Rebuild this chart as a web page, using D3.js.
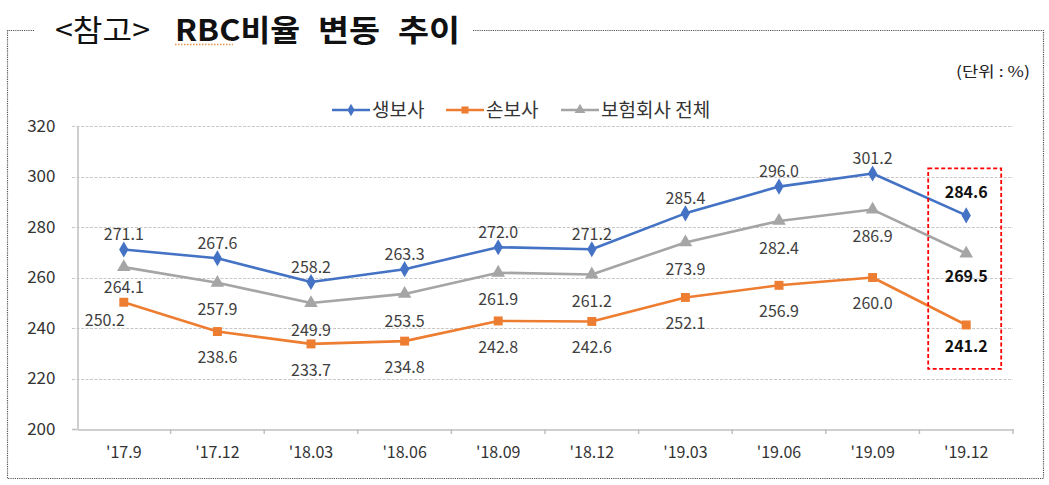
<!DOCTYPE html>
<html>
<head>
<meta charset="utf-8">
<script src="https://cdn.jsdelivr.net/npm/d3@7"></script>
<style>
  body { margin: 0; background: #fff; }
  text { font-family: "Noto Sans CJK KR", "Noto Sans", sans-serif; }
</style>
</head>
<body>
<div class="canvas"></div>
<script>
// data
const periods = ["'17.9", "'17.12", "'18.03", "'18.06", "'18.09", "'18.12", "'19.03", "'19.06", "'19.09", "'19.12"];
const lifeValues = [271.1, 267.6, 258.2, 263.3, 272.0, 271.2, 285.4, 296.0, 301.2, 284.6];
const nonlifeValues = [250.2, 238.6, 233.7, 234.8, 242.8, 242.6, 252.1, 256.9, 260.0, 241.2];
const totalValues = [264.1, 257.9, 249.9, 253.5, 261.9, 261.2, 273.9, 282.4, 286.9, 269.5];
const seriesNames = ["생보사", "손보사", "보험회사 전체"];
const yTicks = [200, 220, 240, 260, 280, 300, 320];

// margins and dimensions
const w = 1049;
const h = 485;
const plot = { left: 77, right: 1013, top: 126, bottom: 429 };

const svg = d3.select(".canvas").append("svg").attr("width", w).attr("height", h);

// outer dotted frame (top broken by the title)
svg.append("path")
  .attr("d", "M34,30.5 H7.5 V478.5 H1043.5 V30.5 H473")
  .attr("fill", "none").attr("stroke", "#555").attr("stroke-width", 1.2).attr("stroke-dasharray", "1.2,1");

// title
svg.append("text").attr("x", 55).attr("y", 41).attr("font-size", 30).attr("fill", "#111")
  .attr("textLength", 95).attr("lengthAdjust", "spacingAndGlyphs").text("<참고>");
const titleWords = [
  { x: 175, len: 125, t: "RBC비율" },
  { x: 318, len: 62, t: "변동" },
  { x: 398, len: 62, t: "추이" },
];
svg.append("g").selectAll("text").data(titleWords).enter().append("text")
  .attr("x", (d) => d.x).attr("y", 41)
  .attr("font-size", 30).attr("font-weight", "bold").attr("fill", "#111")
  .attr("textLength", (d) => d.len).attr("lengthAdjust", "spacingAndGlyphs")
  .text((d) => d.t);
// spell-check squiggle under RBC
svg.append("line").attr("x1", 175).attr("x2", 233).attr("y1", 44.5).attr("y2", 44.5)
  .attr("stroke", "#e8924a").attr("stroke-width", 1.5).attr("stroke-dasharray", "1.5,1.5");

// unit
svg.append("text").attr("x", 956).attr("y", 72).attr("dy", "0.35em")
  .attr("font-size", 15).attr("fill", "#222")
  .attr("textLength", 74).attr("lengthAdjust", "spacingAndGlyphs").text("(단위 : %)");

// scales
const x = d3.scaleBand().domain(periods).range([plot.left, plot.right]);
const y = d3.scaleLinear().domain([200, 320]).range([plot.bottom, plot.top]);
const cx = (d) => x(d) + x.bandwidth() / 2;

// gridlines
svg.append("g").selectAll("line").data(yTicks.filter((t) => t > 200)).enter().append("line")
  .attr("x1", plot.left - 5).attr("x2", plot.right)
  .attr("y1", (d) => Math.round(y(d)) + 0.5).attr("y2", (d) => Math.round(y(d)) + 0.5)
  .attr("stroke", "#c8c8c8").attr("stroke-width", 1.2).attr("stroke-dasharray", "3,1.5");

// y axis
const yAxis = svg.append("g").attr("transform", `translate(${plot.left + 0.5},0)`)
  .call(d3.axisLeft(y).tickValues(yTicks).tickSize(0).tickPadding(22));
yAxis.select(".domain").attr("stroke", "#bfbfbf").attr("stroke-width", 1.5);
yAxis.selectAll("text").attr("font-size", 17).attr("fill", "#333");

// x axis
const xAxis = svg.append("g").attr("transform", `translate(0,${plot.bottom + 0.5})`)
  .call(d3.axisBottom(x).tickSize(0).tickPadding(17));
xAxis.select(".domain").attr("stroke", "#bfbfbf").attr("stroke-width", 1.5);
xAxis.selectAll("text").attr("font-size", 16).attr("fill", "#333");
svg.append("line").attr("x1", plot.left - 5).attr("x2", plot.left).attr("y1", plot.bottom + 0.5).attr("y2", plot.bottom + 0.5)
  .attr("stroke", "#bfbfbf").attr("stroke-width", 1.5);
// band boundary ticks
svg.append("g").selectAll("line").data(periods.slice(1).concat(["end"])).enter().append("line")
  .attr("x1", (d) => (d === "end" ? plot.right : x(d))).attr("x2", (d) => (d === "end" ? plot.right : x(d)))
  .attr("y1", plot.bottom).attr("y2", plot.bottom + 5)
  .attr("stroke", "#bfbfbf").attr("stroke-width", 1.5);

// series
const series = [
  { name: seriesNames[0], values: lifeValues, color: "#4472C4", shape: d3.symbolDiamond, size: 75, dy: -15, lastDy: -23 },
  { name: seriesNames[1], values: nonlifeValues, color: "#ED7D31", shape: d3.symbolSquare, size: 80, dy: 26, lastDy: 21 },
  { name: seriesNames[2], values: totalValues, color: "#A5A5A5", shape: d3.symbolTriangle, size: 80, dy: 27, lastDy: 23 },
];

const line = d3.line().x((d) => cx(d.p)).y((d) => y(d.v));

series.forEach((s) => {
  const pts = s.values.map((v, i) => ({ p: periods[i], v: v, i: i }));
  svg.append("path").datum(pts).attr("d", line)
    .attr("fill", "none").attr("stroke", s.color).attr("stroke-width", 2.6).attr("stroke-linejoin", "round");
  svg.append("g").selectAll("path").data(pts).enter().append("path")
    .attr("d", d3.symbol().type(s.shape).size(s.size))
    .attr("transform", (d) => `translate(${cx(d.p)},${y(d.v)})`)
    .attr("fill", s.color);
});

// data labels
const last = periods.length - 1;
series.forEach((s, si) => {
  const pts = s.values.map((v, i) => ({ p: periods[i], v: v, i: i }));
  svg.append("g").selectAll("text").data(pts).enter().append("text")
    .attr("x", (d) => (si === 1 && d.i === 0 ? cx(d.p) - 19 : cx(d.p)))
    .attr("y", (d) => {
      let dy = d.i === last ? s.lastDy : s.dy;
      if (d.i === 0 && si > 0) dy = si === 1 ? 18 : 20;
      return y(d.v) + dy;
    })
    .attr("dy", "0.35em")
    .attr("text-anchor", "middle")
    .attr("font-size", 16)
    .attr("font-weight", (d) => (d.i === last ? "bold" : "normal"))
    .attr("fill", (d) => (d.i === last ? "#111" : "#404040"))
    .text((d) => d.v.toFixed(1));
});

// highlight box around the last period
const lastX = cx(periods[last]);
svg.append("rect")
  .attr("x", lastX - 38).attr("y", y(303.2))
  .attr("width", 73).attr("height", y(223.8) - y(303.2))
  .attr("fill", "none").attr("stroke", "#ff0000").attr("stroke-width", 1.8).attr("stroke-dasharray", "4,2.5");

// legend
const legendItems = [
  { x: 332, color: series[0].color, shape: series[0].shape, size: 45, name: seriesNames[0] },
  { x: 446, color: series[1].color, shape: series[1].shape, size: 50, name: seriesNames[1] },
  { x: 561, color: series[2].color, shape: series[2].shape, size: 50, name: seriesNames[2] },
];
const legend = svg.append("g").attr("transform", "translate(0,110)");
legendItems.forEach((d) => {
  legend.append("line").attr("x1", d.x).attr("x2", d.x + 38).attr("stroke", d.color).attr("stroke-width", 2.6);
  legend.append("path").attr("d", d3.symbol().type(d.shape).size(d.size)).attr("transform", `translate(${d.x + 19},0)`).attr("fill", d.color);
  legend.append("text").attr("x", d.x + 40).attr("dy", "0.35em").attr("font-size", 19).attr("fill", "#333").text(d.name);
});
</script>
</body>
</html>
